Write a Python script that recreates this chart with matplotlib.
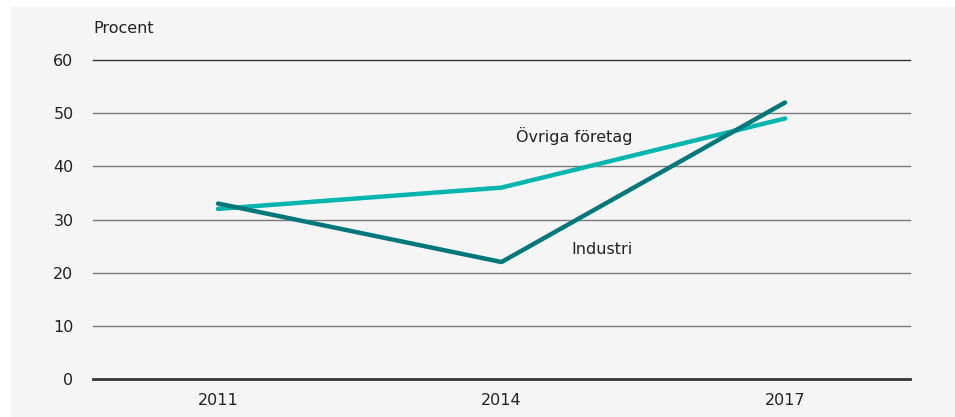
import numpy as np
import matplotlib.pyplot as plt
from matplotlib.patches import Rectangle

years = ["2011", "2014", "2017"]
industri = [33, 22, 52]
ovriga = [32, 36, 49]
yticks = [0, 10, 20, 30, 40, 50, 60]

W, H = 955, 417
fig = plt.figure(figsize=(W / 100, H / 100), dpi=100, facecolor="white")
# grå panel med vit kant uppe och till vänster
bg = Rectangle((11 / W, 0), 1, 1 - 7 / H, transform=fig.transFigure,
               facecolor="#f5f5f5", edgecolor="none", zorder=-10)
fig.add_artist(bg)

ax = fig.add_axes([93 / W, 1 - 379 / H, (910 - 93) / W, (379 - 60) / H])
ax.set_facecolor("none")
ax.set_zorder(5)

x = np.arange(len(years))
ax.plot(x, ovriga, color="#00b5ad", lw=3.2, solid_capstyle="round", zorder=3)
ax.plot(x, industri, color="#00787b", lw=3.2, solid_capstyle="round", zorder=4)

ax.set_ylim(0, 60)
ax.set_xlim(-0.441, 2.441)
for v in yticks[1:]:
    ax.axhline(v, color="#7a7a7a" if v != 60 else "#333333", lw=1, zorder=1, clip_on=False)
ax.axhline(0, color="#333333", lw=2, zorder=2, clip_on=False)

ax.set_yticks(yticks)
ax.set_xticks(x, years)
for s in ax.spines.values():
    s.set_visible(False)
ax.tick_params(axis="y", length=0, pad=14, labelsize=11.5, labelcolor="#222222")
ax.tick_params(axis="x", length=0, pad=10, labelsize=11.5, labelcolor="#222222")

ax.text(0, 1.075, "Procent", transform=ax.transAxes, fontsize=11.5, color="#222222",
        ha="left", va="bottom")
ax.text(1.256, 45.7, "Övriga företag", fontsize=11.5, color="#222222", ha="center", va="center")
ax.text(1.245, 24.4, "Industri", fontsize=11.5, color="#222222", ha="left", va="center")

fig.savefig("out.png", dpi=100, facecolor=fig.get_facecolor())
